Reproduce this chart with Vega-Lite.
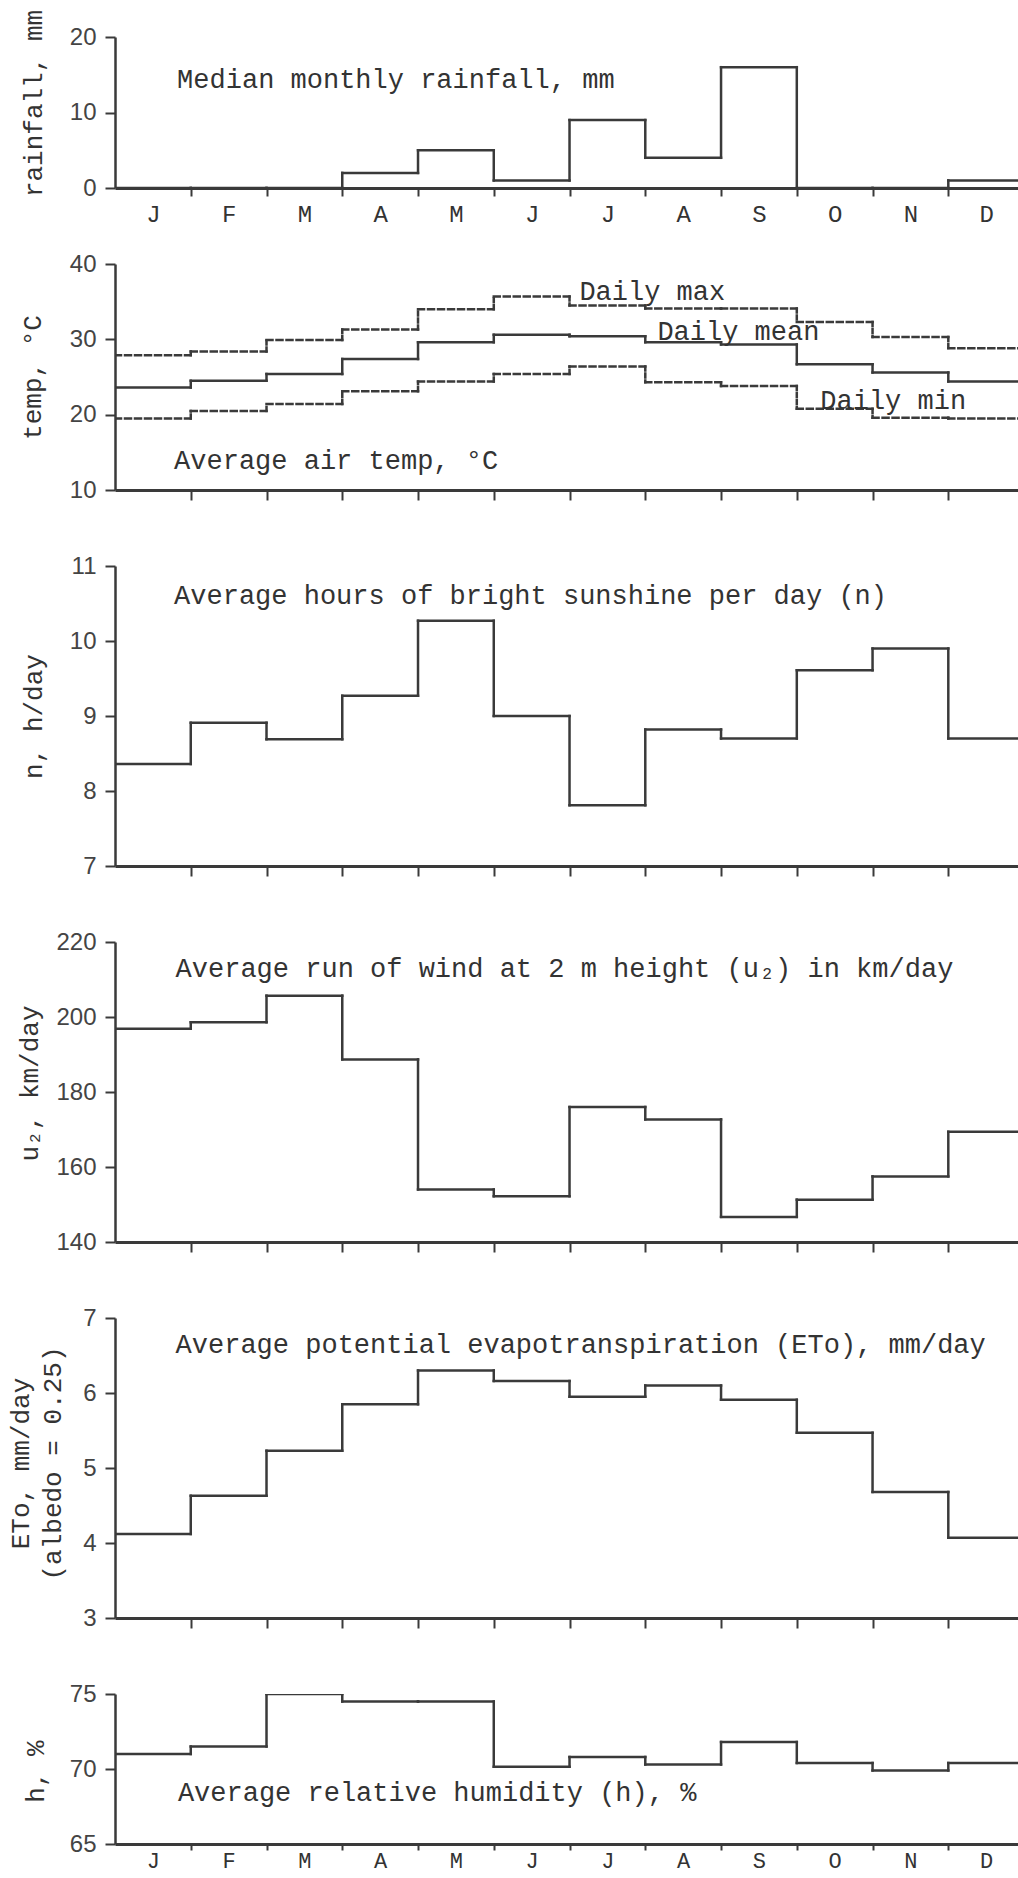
{
  "$schema": "https://vega.github.io/schema/vega-lite/v6.json",
  "background": "white",
  "padding": {"left": 7, "top": 9, "right": 0, "bottom": 3},
  "datasets": {
    "climate": [
      {"mon": "J", "m0": 0, "m1": 1, "rain": 0, "tmax": 27.9, "tmean": 23.6, "tmin": 19.5, "sun": 8.36, "wind": 196.9, "eto": 4.12, "rh": 71.0},
      {"mon": "F", "m0": 1, "m1": 2, "rain": 0, "tmax": 28.4, "tmean": 24.5, "tmin": 20.5, "sun": 8.91, "wind": 198.6, "eto": 4.63, "rh": 71.5},
      {"mon": "M", "m0": 2, "m1": 3, "rain": 0, "tmax": 29.9, "tmean": 25.4, "tmin": 21.4, "sun": 8.69, "wind": 205.7, "eto": 5.23, "rh": 75.0},
      {"mon": "A", "m0": 3, "m1": 4, "rain": 2, "tmax": 31.3, "tmean": 27.4, "tmin": 23.1, "sun": 9.27, "wind": 188.7, "eto": 5.85, "rh": 74.5},
      {"mon": "M", "m0": 4, "m1": 5, "rain": 5, "tmax": 34.0, "tmean": 29.6, "tmin": 24.4, "sun": 10.27, "wind": 154.0, "eto": 6.30, "rh": 74.5},
      {"mon": "J", "m0": 5, "m1": 6, "rain": 1, "tmax": 35.7, "tmean": 30.6, "tmin": 25.4, "sun": 9.00, "wind": 152.2, "eto": 6.16, "rh": 70.15},
      {"mon": "J", "m0": 6, "m1": 7, "rain": 9, "tmax": 34.5, "tmean": 30.4, "tmin": 26.4, "sun": 7.81, "wind": 176.0, "eto": 5.95, "rh": 70.8},
      {"mon": "A", "m0": 7, "m1": 8, "rain": 4, "tmax": 34.1, "tmean": 29.6, "tmin": 24.3, "sun": 8.82, "wind": 172.7, "eto": 6.10, "rh": 70.3},
      {"mon": "S", "m0": 8, "m1": 9, "rain": 16, "tmax": 34.1, "tmean": 29.3, "tmin": 23.8, "sun": 8.70, "wind": 146.7, "eto": 5.91, "rh": 71.8},
      {"mon": "O", "m0": 9, "m1": 10, "rain": 0, "tmax": 32.3, "tmean": 26.7, "tmin": 20.8, "sun": 9.61, "wind": 151.3, "eto": 5.47, "rh": 70.4},
      {"mon": "N", "m0": 10, "m1": 11, "rain": 0, "tmax": 30.3, "tmean": 25.6, "tmin": 19.6, "sun": 9.90, "wind": 157.5, "eto": 4.68, "rh": 69.9},
      {"mon": "D", "m0": 11, "m1": 12, "rain": 1, "tmax": 28.8, "tmean": 24.4, "tmin": 19.5, "sun": 8.70, "wind": 169.4, "eto": 4.07, "rh": 70.4}
    ]
  },
  "data": {"name": "climate"},
  "spacing": 76,
  "bounds": "flush",
  "vconcat": [
    {
      "width": 903, "height": 151,
      "layer": [
        {
          "mark": {"type": "rule", "clip": true},
          "encoding": {
            "x": {"field": "m0", "type": "quantitative", "scale": {"domain": [0, 11.92], "nice": false, "zero": false},
              "axis": {"title": null, "values": [0.5, 1, 1.5, 2, 2.5, 3, 3.5, 4, 4.5, 5, 5.5, 6, 6.5, 7, 7.5, 8, 8.5, 9, 9.5, 10, 10.5, 11, 11.5],
                "labelExpr": "datum.value % 1 === 0 ? '' : ['J','F','M','A','M','J','J','A','S','O','N','D'][floor(datum.value)]",
                "tickOpacity": {"condition": {"test": "datum.value % 1 === 0", "value": 1}, "value": 0},
                "tickSize": 8, "labelPadding": 6, "labelBaseline": "top", "labelFont": "Liberation Mono", "labelFontSize": 24, "labelColor": "#333", "labelOverlap": false, "labelFlush": false}},
            "x2": {"field": "m1"},
            "y": {"field": "rain", "type": "quantitative", "scale": {"domain": [0, 20], "nice": false, "zero": false},
              "axis": {"title": "rainfall, mm", "values": [0, 10, 20], "format": "d", "titleX": -82, "titleY": 66}}
          }
        },
        {
          "transform": [
            {"window": [{"op": "lead", "field": "rain", "as": "next"}], "sort": [{"field": "m0"}]},
            {"filter": "datum.next != null"}
          ],
          "mark": {"type": "rule", "clip": true},
          "encoding": {
            "x": {"field": "m1", "type": "quantitative"},
            "y": {"field": "rain", "type": "quantitative"},
            "y2": {"field": "next"}
          }
        },
        {
          "data": {"values": [{}]},
          "mark": {"type": "text", "text": "Median monthly rainfall, mm"},
          "encoding": {"x": {"datum": 0.82}, "y": {"datum": 13.2}}
        }
      ]
    },
    {
      "width": 903, "height": 226,
      "transform": [
        {"fold": ["tmax", "tmean", "tmin"], "as": ["series", "temp"]}
      ],
      "layer": [
        {
          "mark": {"type": "rule", "clip": true},
          "encoding": {
            "x": {"field": "m0", "type": "quantitative", "scale": {"domain": [0, 11.92], "nice": false, "zero": false},
              "axis": {"title": null, "values": [1, 2, 3, 4, 5, 6, 7, 8, 9, 10, 11], "labels": false, "tickSize": 10}},
            "x2": {"field": "m1"},
            "y": {"field": "temp", "type": "quantitative", "scale": {"domain": [10, 40], "nice": false, "zero": false},
              "axis": {"title": "temp, °C", "values": [10, 20, 30, 40], "format": "d", "titleX": -83, "titleY": 113}},
            "detail": {"field": "series"},
            "strokeDash": {"condition": {"test": "datum.series === 'tmean'", "value": [1, 0]}, "value": [6, 4]},
            "strokeWidth": {"condition": {"test": "datum.series === 'tmean'", "value": 2.8}, "value": 2}
          }
        },
        {
          "transform": [
            {"window": [{"op": "lead", "field": "temp", "as": "next"}], "groupby": ["series"], "sort": [{"field": "m0"}]},
            {"filter": "datum.next != null"}
          ],
          "mark": {"type": "rule", "clip": true},
          "encoding": {
            "x": {"field": "m1", "type": "quantitative"},
            "y": {"field": "temp", "type": "quantitative"},
            "y2": {"field": "next"},
            "detail": {"field": "series"},
            "strokeDash": {"condition": {"test": "datum.series === 'tmean'", "value": [1, 0]}, "value": [4, 3]},
            "strokeWidth": {"condition": {"test": "datum.series === 'tmean'", "value": 2.8}, "value": 2}
          }
        },
        {
          "data": {"values": [{}]},
          "mark": {"type": "text", "text": "Daily max"},
          "encoding": {"x": {"datum": 6.13}, "y": {"datum": 35.2}}
        },
        {
          "data": {"values": [{}]},
          "mark": {"type": "text", "text": "Daily mean"},
          "encoding": {"x": {"datum": 7.16}, "y": {"datum": 29.9}}
        },
        {
          "data": {"values": [{}]},
          "mark": {"type": "text", "text": "Daily min"},
          "encoding": {"x": {"datum": 9.31}, "y": {"datum": 20.7}}
        },
        {
          "data": {"values": [{}]},
          "mark": {"type": "text", "text": "Average air temp, °C"},
          "encoding": {"x": {"datum": 0.78}, "y": {"datum": 12.8}}
        }
      ]
    },
    {
      "width": 903, "height": 300,
      "layer": [
        {
          "mark": {"type": "rule", "clip": true},
          "encoding": {
            "x": {"field": "m0", "type": "quantitative", "scale": {"domain": [0, 11.92], "nice": false, "zero": false},
              "axis": {"title": null, "values": [1, 2, 3, 4, 5, 6, 7, 8, 9, 10, 11], "labels": false, "tickSize": 10}},
            "x2": {"field": "m1"},
            "y": {"field": "sun", "type": "quantitative", "scale": {"domain": [7, 11], "nice": false, "zero": false},
              "axis": {"title": "n, h/day", "values": [7, 8, 9, 10, 11], "format": "d", "titleX": -82, "titleY": 150}}
          }
        },
        {
          "transform": [
            {"window": [{"op": "lead", "field": "sun", "as": "next"}], "sort": [{"field": "m0"}]},
            {"filter": "datum.next != null"}
          ],
          "mark": {"type": "rule", "clip": true},
          "encoding": {
            "x": {"field": "m1", "type": "quantitative"},
            "y": {"field": "sun", "type": "quantitative"},
            "y2": {"field": "next"}
          }
        },
        {
          "data": {"values": [{}]},
          "mark": {"type": "text", "text": "Average hours of bright sunshine per day (n)"},
          "encoding": {"x": {"datum": 0.78}, "y": {"datum": 10.49}}
        }
      ]
    },
    {
      "width": 903, "height": 300,
      "layer": [
        {
          "mark": {"type": "rule", "clip": true},
          "encoding": {
            "x": {"field": "m0", "type": "quantitative", "scale": {"domain": [0, 11.92], "nice": false, "zero": false},
              "axis": {"title": null, "values": [1, 2, 3, 4, 5, 6, 7, 8, 9, 10, 11], "labels": false, "tickSize": 10}},
            "x2": {"field": "m1"},
            "y": {"field": "wind", "type": "quantitative", "scale": {"domain": [140, 220], "nice": false, "zero": false},
              "axis": {"title": "u₂, km/day", "values": [140, 160, 180, 200, 220], "format": "d", "titleX": -86, "titleY": 141}}
          }
        },
        {
          "transform": [
            {"window": [{"op": "lead", "field": "wind", "as": "next"}], "sort": [{"field": "m0"}]},
            {"filter": "datum.next != null"}
          ],
          "mark": {"type": "rule", "clip": true},
          "encoding": {
            "x": {"field": "m1", "type": "quantitative"},
            "y": {"field": "wind", "type": "quantitative"},
            "y2": {"field": "next"}
          }
        },
        {
          "data": {"values": [{}]},
          "mark": {"type": "text", "text": "Average run of wind at 2 m height (u₂) in km/day"},
          "encoding": {"x": {"datum": 0.8}, "y": {"datum": 210.7}}
        }
      ]
    },
    {
      "width": 903, "height": 300,
      "layer": [
        {
          "mark": {"type": "rule", "clip": true},
          "encoding": {
            "x": {"field": "m0", "type": "quantitative", "scale": {"domain": [0, 11.92], "nice": false, "zero": false},
              "axis": {"title": null, "values": [1, 2, 3, 4, 5, 6, 7, 8, 9, 10, 11], "labels": false, "tickSize": 10}},
            "x2": {"field": "m1"},
            "y": {"field": "eto", "type": "quantitative", "scale": {"domain": [3, 7], "nice": false, "zero": false},
              "axis": {"title": ["ETo, mm/day", "(albedo = 0.25)"], "values": [3, 4, 5, 6, 7], "format": "d", "titleX": -95, "titleY": 145, "titleLineHeight": 32}}
          }
        },
        {
          "transform": [
            {"window": [{"op": "lead", "field": "eto", "as": "next"}], "sort": [{"field": "m0"}]},
            {"filter": "datum.next != null"}
          ],
          "mark": {"type": "rule", "clip": true},
          "encoding": {
            "x": {"field": "m1", "type": "quantitative"},
            "y": {"field": "eto", "type": "quantitative"},
            "y2": {"field": "next"}
          }
        },
        {
          "data": {"values": [{}]},
          "mark": {"type": "text", "text": "Average potential evapotranspiration (ETo), mm/day"},
          "encoding": {"x": {"datum": 0.8}, "y": {"datum": 6.53}}
        }
      ]
    },
    {
      "width": 903, "height": 150,
      "layer": [
        {
          "mark": {"type": "rule", "clip": true},
          "encoding": {
            "x": {"field": "m0", "type": "quantitative", "scale": {"domain": [0, 11.92], "nice": false, "zero": false},
              "axis": {"title": null, "values": [0.5, 1, 1.5, 2, 2.5, 3, 3.5, 4, 4.5, 5, 5.5, 6, 6.5, 7, 7.5, 8, 8.5, 9, 9.5, 10, 10.5, 11, 11.5],
                "labelExpr": "datum.value % 1 === 0 ? '' : ['J','F','M','A','M','J','J','A','S','O','N','D'][floor(datum.value)]",
                "tickOpacity": {"condition": {"test": "datum.value % 1 === 0", "value": 1}, "value": 0},
                "tickSize": 6, "labelPadding": 0, "labelBaseline": "top", "labelFont": "Liberation Mono", "labelFontSize": 22, "labelColor": "#333", "labelOverlap": false, "labelFlush": false}},
            "x2": {"field": "m1"},
            "y": {"field": "rh", "type": "quantitative", "scale": {"domain": [65, 75], "nice": false, "zero": false},
              "axis": {"title": "h, %", "values": [65, 70, 75], "format": "d", "titleX": -80, "titleY": 77}}
          }
        },
        {
          "transform": [
            {"window": [{"op": "lead", "field": "rh", "as": "next"}], "sort": [{"field": "m0"}]},
            {"filter": "datum.next != null"}
          ],
          "mark": {"type": "rule", "clip": true},
          "encoding": {
            "x": {"field": "m1", "type": "quantitative"},
            "y": {"field": "rh", "type": "quantitative"},
            "y2": {"field": "next"}
          }
        },
        {
          "data": {"values": [{}]},
          "mark": {"type": "text", "text": "Average relative humidity (h), %"},
          "encoding": {"x": {"datum": 0.83}, "y": {"datum": 67.9}}
        }
      ]
    }
  ],
  "config": {
    "view": {"stroke": null},
    "axis": {
      "grid": false,
      "domainColor": "#3a3a3a",
      "domainWidth": 2.5,
      "tickColor": "#3a3a3a",
      "tickWidth": 2,
      "labelFont": "Liberation Sans",
      "labelFontSize": 24,
      "labelColor": "#444",
      "titleFont": "Liberation Mono",
      "titleFontSize": 26,
      "titleFontWeight": "normal",
      "titleColor": "#333"
    },
    "axisY": {"tickSize": 10, "labelPadding": 9, "titleBaseline": "middle", "titleAlign": "center", "titleAngle": -90},
    "axisX": {"domainWidth": 3},
    "text": {"font": "Liberation Mono", "fontSize": 27, "color": "#333", "align": "left", "baseline": "alphabetic"},
    "rule": {"color": "#3a3a3a", "strokeWidth": 2.5, "strokeCap": "square"}
  }
}
